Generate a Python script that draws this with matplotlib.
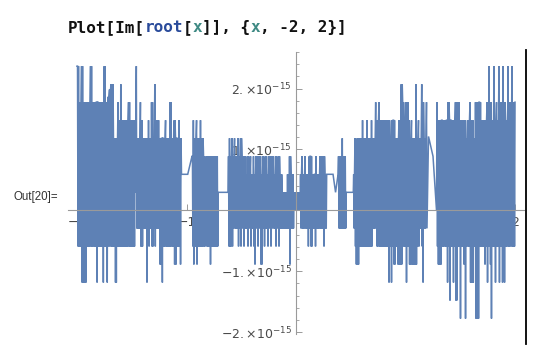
import numpy as np
import matplotlib
matplotlib.use("Agg")
import matplotlib.pyplot as plt
from matplotlib.lines import Line2D
from matplotlib.ticker import FixedLocator, FixedFormatter

# ---- data ----
# The sampled curve oscillates between an upper and a lower value in each x-run.
# Values are in units of Q (numerical-noise step of Im[root[x]]).
Q = 2.96e-16
x_start = -2.0
run_end_x = [
    -1.982, -1.963, -1.945, -1.918, -1.881, -1.863, -1.852, -1.843, -1.824, -1.813,
    -1.769, -1.755, -1.740, -1.732, -1.720, -1.708, -1.694, -1.671, -1.656, -1.641,
    -1.630, -1.621, -1.605, -1.596, -1.534, -1.516, -1.475, -1.463, -1.454, -1.425,
    -1.417, -1.402, -1.370, -1.361, -1.352, -1.342, -1.324, -1.306, -1.294, -1.285,
    -1.251, -1.228, -1.217, -1.196, -1.187, -1.155, -1.143, -1.116, -1.105, -1.091,
    -1.073, -1.064, -1.050, -1.046, -0.989, -0.950, -0.942, -0.933, -0.913, -0.904,
    -0.877, -0.868, -0.849, -0.831, -0.822, -0.790, -0.781, -0.715, -0.711, -0.621,
    -0.612, -0.603, -0.589, -0.580, -0.566, -0.557, -0.534, -0.525, -0.511, -0.498,
    -0.484, -0.475, -0.457, -0.447, -0.434, -0.420, -0.411, -0.393, -0.384, -0.370,
    -0.356, -0.342, -0.329, -0.311, -0.297, -0.283, -0.265, -0.251, -0.237, -0.224,
    -0.210, -0.192, -0.178, -0.164, -0.151, -0.131, -0.082, -0.064, -0.050, -0.023,
    0.037, 0.050, 0.059, 0.078, 0.087, 0.105, 0.117, 0.128, 0.146, 0.169,
    0.178, 0.187, 0.215, 0.247, 0.260, 0.280, 0.285, 0.338, 0.361, 0.384,
    0.418, 0.427, 0.454, 0.458, 0.523, 0.534, 0.543, 0.555, 0.571, 0.603,
    0.612, 0.644, 0.653, 0.685, 0.694, 0.723, 0.732, 0.753, 0.763, 0.840,
    0.854, 0.863, 0.872, 0.886, 0.904, 0.922, 0.936, 0.957, 0.970, 0.982,
    1.000, 1.009, 1.027, 1.037, 1.050, 1.059, 1.091, 1.100, 1.114, 1.123,
    1.143, 1.153, 1.164, 1.187, 1.196, 1.210, 1.251, 1.283, 1.292, 1.329,
    1.352, 1.361, 1.374, 1.384, 1.397, 1.411, 1.429, 1.438, 1.452, 1.468,
    1.493, 1.502, 1.525, 1.539, 1.548, 1.562, 1.584, 1.594, 1.619, 1.635,
    1.671, 1.689, 1.717, 1.726, 1.740, 1.749, 1.758, 1.767, 1.776, 1.785,
    1.804, 1.813, 1.826, 1.836, 1.849, 1.858, 1.877, 1.886, 1.895, 1.909,
    1.932, 1.941, 1.954, 1.968, 1.977, 2.000,
]
run_hi = [
    8, 6, 8, 6, 6, 8, 6, 4, 6, 6,
    6, 6, 8, 6, 6, 6.3, 6.7, 7, 4, 4,
    4, 6, 5, 7, 5, 6, 5, 5, 8, 4,
    6, 5, 4, 4, 4, 5, 4, 6, 4, 7,
    5, 4, 4, 4, 5, 4, 6, 4, 5, 4,
    4, 5, 4, 2, 2, 3, 3, 5, 4, 5,
    4, 5, 4, 3, 2, 3, 3, 3, 1, 1,
    3, 4, 3, 4, 3, 4, 3, 4, 3, 4,
    3, 2, 3, 2, 3, 2, 3, 2, 3, 2,
    3, 2, 3, 2, 3, 2, 3, 2, 3, 2,
    3, 2, 3, 2, 3, 2, 1, 2, 3, 2,
    1, 2, 3, 2, 3, 2, 2, 3, 3, 2,
    2, 3, 2, 3, 3, 2, 2, 2, 1, 2,
    3, 4, 3, 1, 1, 2, 4, 3, 4, 4,
    5, 4, 5, 4, 5, 4, 6, 5, 6, 5,
    5, 4, 4, 5, 5, 4, 4, 5, 7, 6,
    5, 6, 6, 5, 4, 5, 4, 7, 4, 5,
    4, 7, 6, 4, 6, 4.1, 3, 0, 6, 5,
    5, 4, 5, 5, 6, 5, 5, 4, 5, 6,
    6, 5, 5, 4, 5, 4, 5, 6, 5, 4,
    6, 6, 5, 4, 5, 6, 5, 8, 5, 6,
    5, 8, 5, 6, 5, 8, 6, 5, 8, 6,
    5, 8, 6, 5, 8, 6,
]
run_lo = [
    -2, -2, -4, -4, -2, -2, -2, -2, -2, -4,
    -2, -4, -2, -2, -4, -2, -2, -2, -2, -4,
    -2, -2, -2, -2, -2, -2, -2, 1, -1, -1,
    -2, -2, -1, -4, -1, -2, -1, -2, -1, -2,
    -1, -3, -4, -2, -2, -2, -2, -2, -3, -3,
    -2, -2, -3, 2, 2, 3, -2, -3, -2, -3,
    -2, -2, -2, -2, -1, -2, -3, -2, 1, 1,
    -2, -2, -2, -2, -1, -1, -1, -2, -1, -2,
    -1, -2, -1, -1, -2, -1, -2, -1, -2, -3,
    -1, -2, -1, -3, -1, -2, -1, -2, -1, -2,
    -1, -1, -2, -1, -2, -1, -1, -1, -3, -1,
    0, -1, -1, -1, -1, -1, -2, -1, -2, -1,
    -2, -1, -1, -1, -2, -1, 2, 2, 1, 2,
    -1, -1, -1, 1, 1, -1, -2, -3, -3, -2,
    -2, -2, -2, -2, -2, -1, -1, -2, -2, -2,
    -4, -2, -4, -2, -3, -2, -3, -3, -3, -2,
    -2, -4, -2, -3, -3, -3, -3, -3, -2, -2,
    -1, -2, -4, -1, -1, 4.1, 3, 0, -2, -3,
    -2, -2, -2, -4, -2, -5, -2, -4, -2, -5,
    -2, -6, -2, -3, -6, -2, -2, -4, -4, -2,
    -6, -2, -2, -3, -2, -4, -2, -2, -3, -6,
    -2, -2, -4, -2, -2, -4, -2, -4, -2, -4,
    -2, -2, -2, -2, -2, -2,
]

x_ticks = [-2, -1, 1, 2]
x_tick_labels = ["\u22122", "\u22121", "1", "2"]
y_ticks = [-2e-15, -1e-15, 1e-15, 2e-15]
y_tick_labels = [r"$\mathregular{-2.{\times}10^{-15}}$", r"$\mathregular{-1.{\times}10^{-15}}$",
                 r"$\mathregular{1.{\times}10^{-15}}$", r"$\mathregular{2.{\times}10^{-15}}$"]

# ---- build the densely sampled oscillating curve ----
step = 0.0042
xs, ys = [x_start], [run_hi[0] * Q]
prev = x_start
for xe, hi, lo in zip(run_end_x, run_hi, run_lo):
    if hi == lo:
        xs.append(xe)
        ys.append(hi * Q)
    else:
        n = max(2, int(round((xe - prev) / step)))
        seg = np.linspace(prev, xe, n + 1)[1:]
        for k, xv in enumerate(seg):
            xs.append(xv)
            ys.append((hi if k % 2 == 0 else lo) * Q)
    prev = xe

# ---- figure ----
W, H = 540, 354
fig = plt.figure(figsize=(W / 100, H / 100), dpi=100)
fig.patch.set_facecolor("white")
ax = fig.add_axes([67.5 / W, (H - 334) / H, (524 - 67.5) / W, (334 - 52) / H])
ax.set_facecolor("none")

ax.plot(xs, ys, color="#5E81B5", lw=1.1, zorder=3, solid_joinstyle="miter")

ax.set_xlim(-2.087, 2.082)
ax.set_ylim(-2.03e-15, 2.6e-15)

for s in ("top", "right"):
    ax.spines[s].set_visible(False)
ax.spines["left"].set_position(("data", 0))
ax.spines["bottom"].set_position(("data", 0))
for s in ("left", "bottom"):
    ax.spines[s].set_color("#9a9a9a")
    ax.spines[s].set_linewidth(0.8)
    ax.spines[s].set_zorder(4)

ax.xaxis.set_major_locator(FixedLocator(x_ticks))
ax.xaxis.set_major_formatter(FixedFormatter(x_tick_labels))
ax.xaxis.set_minor_locator(FixedLocator(np.round(np.arange(-2.0, 2.01, 0.2), 2)))
ax.yaxis.set_major_locator(FixedLocator(y_ticks))
ax.yaxis.set_major_formatter(FixedFormatter(y_tick_labels))
ax.yaxis.set_minor_locator(FixedLocator(np.arange(-2.0, 2.61, 0.2) * 1e-15))

ax.tick_params(axis="both", which="both", direction="in", color="#9a9a9a",
               labelcolor="#4a4a4a", labelsize=9)
ax.tick_params(axis="both", which="major", length=4, width=0.7)
ax.tick_params(axis="both", which="minor", length=2.3, width=0.6)
ax.tick_params(axis="x", pad=4)
ax.tick_params(axis="y", pad=3)
ax.xaxis.set_zorder(2.5)
ax.yaxis.set_zorder(2.5)

# ---- notebook decorations ----
fs = 11.5
cw = 0.602 * fs * 100 / 72  # monospace char width in px
pieces = [("Plot[Im[", "#111111"), ("root", "#2A4B9B"), ("[", "#111111"),
          ("x", "#3F8A84"), ("]], {", "#111111"), ("x", "#3F8A84"),
          (", -2, 2}]", "#111111")]
px = 67.5
for txt, col in pieces:
    fig.text(px / W, (H - 27.5) / H, txt, family="DejaVu Sans Mono",
             weight="bold", fontsize=fs, color=col, va="center", ha="left")
    px += len(txt) * cw

fig.text(14 / W, (H - 197) / H, "Out[20]=", family="Liberation Sans",
         fontsize=8.3, color="#333333", va="center", ha="left")

fig.add_artist(Line2D([526 / W, 526 / W], [(H - 50) / H, (H - 344) / H],
                      color="black", lw=1.3))

fig.savefig("out.png", dpi=100, facecolor="white")
